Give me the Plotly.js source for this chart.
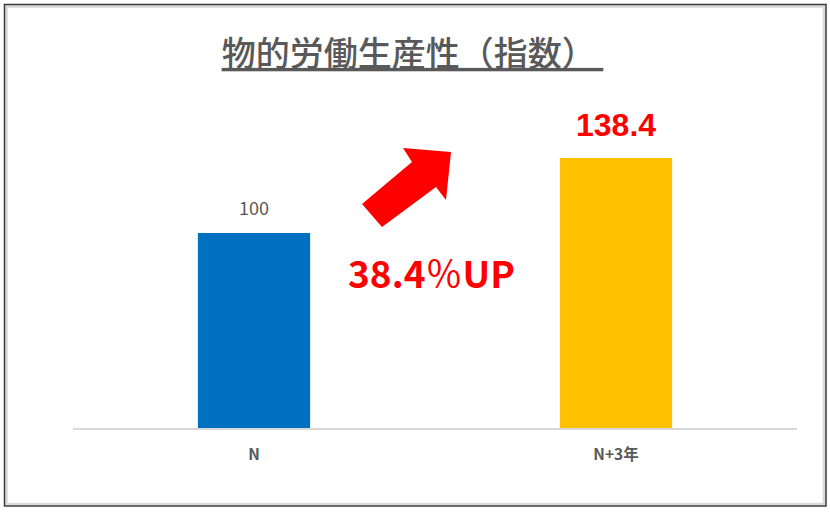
<!DOCTYPE html>
<html>
<head>
<meta charset="utf-8">
<script src="https://cdn.plot.ly/plotly-3.0.1.min.js"></script>
<style>
html,body{margin:0;padding:0;background:#fff;}
#chart{width:830px;height:512px;}
</style>
</head>
<body>
<div id="chart"></div>
<script>
// Data
var categories = ['N', 'N+3年'];
var values = [100, 138.4];
var barColors = ['#0070C0', '#FFC000'];
var chartTitle = '物的労働生産性（指数）';
var growthNumber = '38.4';
var growthSuffix = '％';
var growthWord = 'UP';

// Layout geometry
var W = 830, H = 512, mL = 73, mR = 33, mT = 116, mB = 84;
var pw = W - mL - mR, ph = H - mT - mB;
function px(x){ return (x - mL) / pw; }
function py(y){ return (H - mB - y) / ph; }

var jp = '"Noto Sans CJK JP", "Noto Sans", sans-serif';
var lat = '"Liberation Sans", Arial, sans-serif';

var arrowPts = [[362,204],[412,162],[403,148],[451,152],[446,200],[436,187],[382,227]];
var arrowPath = arrowPts.map(function(p,i){ return (i===0?'M':'L') + px(p[0]).toFixed(4) + ',' + py(p[1]).toFixed(4); }).join(' ') + ' Z';

var trace = {
  type: 'bar',
  x: categories,
  y: values,
  marker: {color: barColors},
  hoverinfo: 'skip'
};

var annotations = [
  {x: categories[0], y: values[0], xref: 'x', yref: 'y', text: String(values[0]),
   showarrow: false, yanchor: 'bottom', yshift: 11,
   font: {family: jp, size: 18, color: '#595959'}},
  {x: categories[1], y: values[1], xref: 'x', yref: 'y', text: '<b>' + values[1].toFixed(1) + '</b>',
   showarrow: false, yanchor: 'bottom', yshift: 13,
   font: {family: lat, size: 32, color: '#FF0000'}},
  {x: px(431), y: py(272), xref: 'paper', yref: 'paper',
   text: '<b>' + growthNumber + '</b><span style="font-weight:normal">' + growthSuffix + '</span><b>' + growthWord + '</b>',
   showarrow: false, xanchor: 'center', yanchor: 'middle',
   font: {family: jp, size: 37, color: '#FF0000'}}
];

var shapes = [
  {type: 'path', xref: 'paper', yref: 'paper', path: arrowPath,
   fillcolor: '#FF0000', line: {width: 0}},
  {type: 'rect', xref: 'paper', yref: 'paper', x0: px(6.5), x1: px(824), y0: py(504), y1: py(6.5),
   line: {color: '#d9d9d9', width: 2.5}, fillcolor: 'rgba(0,0,0,0)', layer: 'below'},
  {type: 'rect', xref: 'paper', yref: 'paper', x0: px(4.5), x1: px(826), y0: py(506), y1: py(4.5),
   line: {color: '#3a3a3a', width: 1.5}, fillcolor: 'rgba(0,0,0,0)'}
];

var layout = {
  width: W, height: H,
  margin: {l: mL, r: mR, t: mT, b: mB, pad: 0},
  paper_bgcolor: '#ffffff', plot_bgcolor: '#ffffff',
  title: {text: '<u>' + chartTitle + ' </u>', xref: 'container', yref: 'container',
          x: 0.497, y: 1 - 54/H, xanchor: 'center', yanchor: 'middle',
          font: {family: jp, size: 34, color: '#595959', weight: 500}},
  bargap: 0.69,
  showlegend: false,
  xaxis: {type: 'category', showline: true, linecolor: '#d9d9d9', linewidth: 1.5,
          showgrid: false, zeroline: false, ticks: '', ticklabelstandoff: 12,
          tickfont: {family: jp, size: 15.5, color: '#595959', weight: 'bold'}, fixedrange: true},
  yaxis: {range: [0, 160], visible: false, showgrid: false, zeroline: false, fixedrange: true},
  annotations: annotations,
  shapes: shapes
};

Plotly.newPlot('chart', [trace], layout, {displayModeBar: false, staticPlot: true});
</script>
</body>
</html>
